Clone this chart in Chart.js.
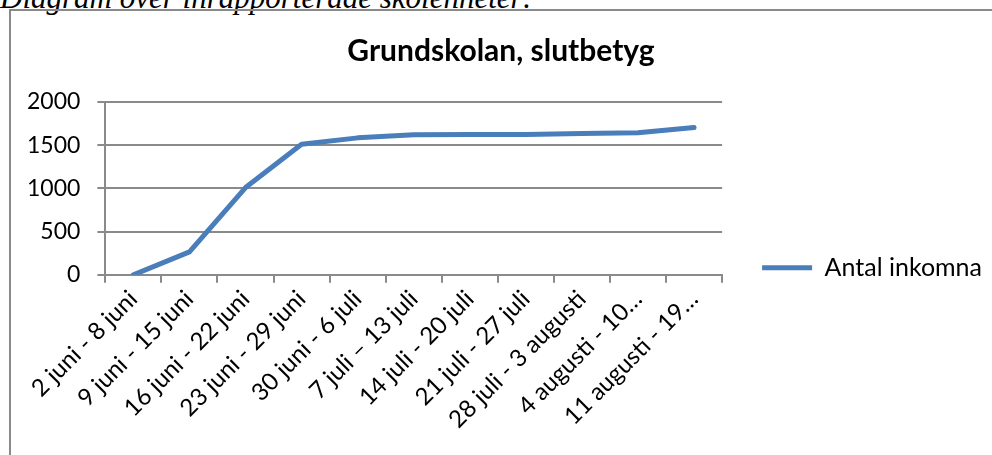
<!DOCTYPE html>
<html>
<head>
<meta charset="utf-8">
<script src="https://cdn.jsdelivr.net/npm/chart.js@4.4.0/dist/chart.umd.min.js"></script>
<style>
  html, body { margin: 0; padding: 0; background: #fff; overflow: hidden; width: 992px; height: 455px; }
  #caption { position: absolute; left: 0; top: -20px; font-family: "Liberation Serif", "DejaVu Serif", serif; font-style: italic; font-size: 31px; color: #000; white-space: nowrap; }
  #frame { position: absolute; left: 9px; top: 9px; width: 1100px; height: 600px; border-top: 2px solid #8a8a8a; border-left: 2px solid #8a8a8a; }
  #wrap { position: absolute; left: 10px; top: 11px; width: 982px; height: 455px; }
</style>
</head>
<body>
<div id="caption">Diagram över inrapporterade skolenheter:</div>
<div id="frame"></div>
<div id="wrap"><canvas id="c"></canvas></div>
<script>
const categories = [
  "2 juni - 8 juni",
  "9 juni - 15 juni",
  "16 juni - 22 juni",
  "23 juni - 29 juni",
  "30 juni - 6 juli",
  "7 juli \u2013 13 juli",
  "14 juli - 20 juli",
  "21 juli - 27 juli",
  "28 juli - 3 augusti",
  "4 augusti - 10\u2026",
  "11 augusti - 19\u2026"
];
const antalInkomna = [0, 265, 1010, 1512, 1585, 1620, 1625, 1625, 1635, 1645, 1705];
const seriesName = "Antal inkomna";
const chartTitle = "Grundskolan, slutbetyg";
const yTicks = [0, 500, 1000, 1500, 2000];

const gridColor = "#8a8a8a";
const lineColor = "#4a7ebb";
const fontFamily = "Lato, 'Open Sans', sans-serif";

new Chart(document.getElementById("c"), {
  type: "line",
  data: {
    labels: categories,
    datasets: [{
      label: seriesName,
      data: antalInkomna,
      borderColor: lineColor,
      backgroundColor: lineColor,
      borderWidth: 5,
      pointRadius: 0,
      pointStyle: "line",
      tension: 0,
      borderJoinStyle: "round",
      borderCapStyle: "round"
    }]
  },
  options: {
    responsive: true,
    maintainAspectRatio: false,
    animation: false,
    layout: { padding: { top: 20, left: 0, right: 0, bottom: 30 } },
    plugins: {
      title: {
        display: true,
        text: chartTitle,
        color: "#000",
        font: { family: fontFamily, size: 30, weight: "bold" },
        padding: { top: 2, bottom: 33 }
      },
      legend: {
        display: true,
        position: "right",
        maxWidth: 320,
        title: { display: true, text: " ", font: { size: 12 }, padding: { top: 0, bottom: 54 } },
        labels: {
          color: "#000",
          font: { family: fontFamily, size: 25 },
          usePointStyle: true,
          pointStyleWidth: 50,
          padding: 40
        }
      },
      tooltip: { enabled: false }
    },
    scales: {
      x: {
        offset: true,
        grid: { offset: true, drawOnChartArea: false, drawTicks: true, tickLength: 8, color: gridColor, lineWidth: 2 },
        border: { color: gridColor, width: 2 },
        ticks: { color: "#000", font: { family: fontFamily, size: 24 }, minRotation: 45, maxRotation: 45, autoSkip: false, padding: 2 }
      },
      y: {
        min: 0,
        max: 2000,
        afterBuildTicks: (s) => { s.ticks = yTicks.map(v => ({ value: v })); },
        grid: { color: gridColor, lineWidth: 2, tickLength: 8 },
        border: { color: gridColor, width: 2 },
        ticks: { color: "#000", font: { family: fontFamily, size: 23 }, padding: 17, callback: (v) => String(v) }
      }
    }
  }
});
</script>
</body>
</html>
